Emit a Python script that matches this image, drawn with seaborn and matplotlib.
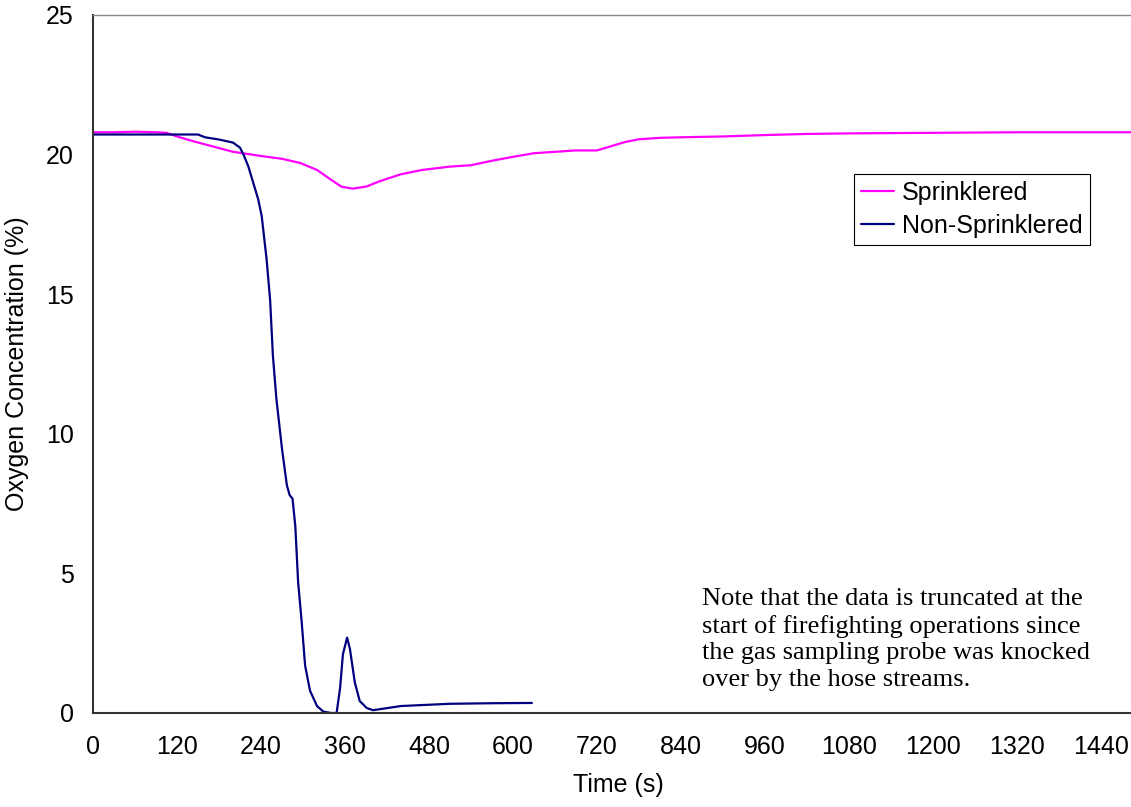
import pandas as pd
import matplotlib
matplotlib.use("Agg")
import matplotlib.pyplot as plt
import seaborn as sns
from matplotlib.ticker import MultipleLocator

# Sprinklered test, oxygen concentration (%)
t_spr = [0, 30, 60, 90, 105, 120, 143, 170, 200, 240, 270, 296, 320, 340, 355,
         371, 391, 410, 439, 470, 510, 540, 570, 600, 630, 660, 690, 720, 740,
         760, 780, 810, 840, 900, 960, 1020, 1080, 1200, 1320, 1500]
o2_spr = [20.8, 20.8, 20.82, 20.8, 20.78, 20.65, 20.48, 20.3, 20.1, 19.95, 19.85,
          19.7, 19.45, 19.1, 18.85, 18.78, 18.86, 19.05, 19.29, 19.45, 19.57,
          19.62, 19.78, 19.92, 20.05, 20.1, 20.15, 20.15, 20.3, 20.45, 20.55,
          20.6, 20.62, 20.65, 20.7, 20.74, 20.76, 20.78, 20.8, 20.8]

# Non-sprinklered test (truncated at start of firefighting)
t_ns = [0, 150, 160, 180, 200, 210, 215, 222, 230, 236, 241, 248, 253, 257, 262,
        270, 277, 281, 285, 289, 293, 298, 303, 310, 320, 329, 340, 348, 353,
        357, 363, 367, 374, 381, 391, 400, 440, 510, 570, 627]
o2_ns = [20.72, 20.72, 20.62, 20.54, 20.43, 20.25, 20.0, 19.57, 18.9, 18.4, 17.8,
         16.25, 14.8, 12.8, 11.25, 9.46, 8.15, 7.8, 7.68, 6.7, 4.7, 3.3, 1.7,
         0.8, 0.25, 0.05, 0.0, 0.0, 0.9, 2.1, 2.7, 2.3, 1.1, 0.43, 0.18, 0.1,
         0.25, 0.33, 0.35, 0.36]

series_names = ["Sprinklered", "Non-Sprinklered"]
x_ticks = list(range(0, 1441, 120))
y_ticks = [0, 5, 10, 15, 20, 25]
note = ("Note that the data is truncated at the\n"
        "start of firefighting operations since\n"
        "the gas sampling probe was knocked\n"
        "over by the hose streams.")

df = pd.concat([
    pd.DataFrame({"Time": t_spr, "O2": o2_spr, "Test": series_names[0]}),
    pd.DataFrame({"Time": t_ns, "O2": o2_ns, "Test": series_names[1]}),
], ignore_index=True)

sns.set_style("white")
plt.rcParams["font.family"] = ["Liberation Sans", "DejaVu Sans"]
plt.rcParams["text.color"] = "black"
plt.rcParams["axes.labelcolor"] = "black"

fig = plt.figure(figsize=(11.31, 8.07), dpi=100)
ax = fig.add_axes([93 / 1131, 94 / 807, 1050 / 1131, 698 / 807])

sns.lineplot(data=df, x="Time", y="O2", hue="Test", sort=False, estimator=None,
             palette={"Sprinklered": "#FF00FF", "Non-Sprinklered": "#000080"},
             linewidth=1.6, ax=ax)

ax.set_xlim(0, 1500)
ax.set_ylim(0, 25)
ax.set_xticks(x_ticks)
ax.set_yticks(y_ticks)
ax.xaxis.set_minor_locator(MultipleLocator(15))
ax.yaxis.set_minor_locator(MultipleLocator(1))
ax.tick_params(axis="both", which="both", direction="in", color="#333333",
               labelsize=18, labelcolor="black")
ax.tick_params(axis="x", which="major", length=7, width=1, pad=16)
ax.tick_params(axis="x", which="minor", length=4, width=1)
ax.tick_params(axis="y", which="major", length=6, width=1, pad=14)
ax.tick_params(axis="y", which="minor", length=6, width=1)

for side in ["left", "bottom"]:
    ax.spines[side].set_color("#333333")
    ax.spines[side].set_linewidth(1.5)
ax.spines["top"].set_color("#888888")
ax.spines["top"].set_linewidth(1)
ax.spines["right"].set_visible(False)

ax.set_xlabel("Time (s)", fontsize=18, labelpad=10)
ax.set_ylabel("Oxygen Concentration (%)", fontsize=18, labelpad=12)

ax.legend(title=None, loc="upper left", bbox_to_anchor=(0.7248, 0.772),
          borderaxespad=0, fontsize=18, frameon=True, fancybox=False,
          edgecolor="black", framealpha=1, handlelength=1.3,
          handletextpad=0.35, labelspacing=0.35, borderpad=0.28)
ax.get_legend().get_frame().set_linewidth(0.8)

fig.text(702 / 1131, 1 - 588 / 807, note, transform=fig.transFigure,
         va="top", ha="left", fontsize=19, linespacing=1.27,
         family=["Liberation Serif", "DejaVu Serif"])

fig.savefig("out.png", dpi=100)
